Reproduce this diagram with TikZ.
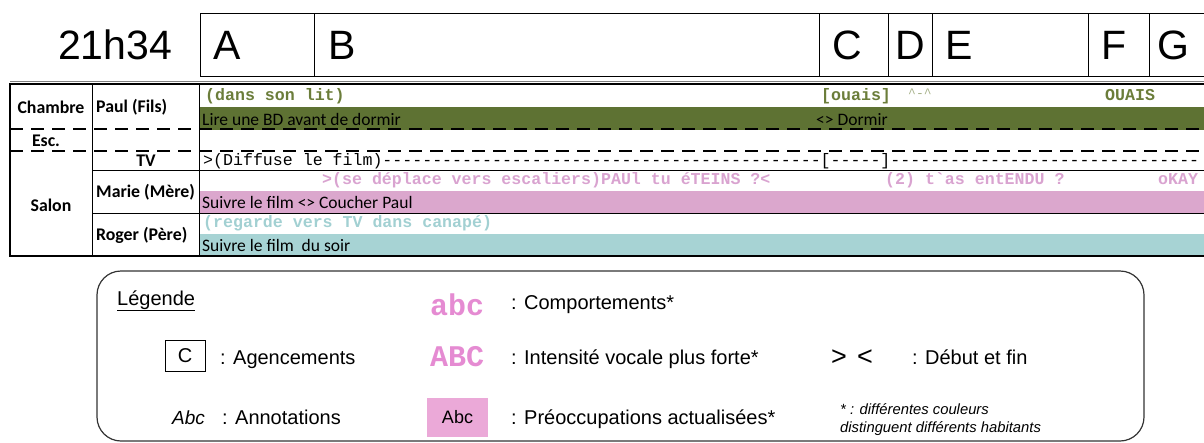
\documentclass[tikz,border=0pt]{standalone}
\usepackage{fontspec}
\setmainfont{Liberation Sans}
\setmonofont{Liberation Mono}
\newfontfamily\calfont{Carlito}
\newcommand\fsz[1]{\fontsize{#1}{#1}\selectfont}
\definecolor{olivetext}{HTML}{6B7D3A}
\definecolor{olivebar}{HTML}{5E7233}
\definecolor{pinktext}{HTML}{D9A3D0}
\definecolor{pinkbar}{HTML}{DBA7CD}
\definecolor{tealtext}{HTML}{A2D0D2}
\definecolor{tealbar}{HTML}{A7D3D4}
\definecolor{legpink}{HTML}{E58BD2}
\definecolor{legbox}{HTML}{EBA9D8}
\definecolor{framegray}{HTML}{333333}
\tikzset{
  hdr/.style={inner sep=0pt, anchor=base west, font=\fsz{41}},
  rowlbl/.style={inner sep=0pt, font=\calfont\bfseries\fsz{17.8}},
  bartxt/.style={inner sep=0pt, anchor=base west, font=\calfont\fsz{17.5}},
  annot/.style={inner sep=0pt, anchor=base west, font=\ttfamily\bfseries\fsz{16.6}},
  tvtxt/.style={inner sep=0pt, anchor=base west, font=\ttfamily\fsz{16.6}},
  leg/.style={inner sep=0pt, anchor=base west, font=\fsz{20}},
  legmono/.style={inner sep=0pt, anchor=base west, font=\ttfamily\bfseries\fsz{30}, text=legpink},
  dashln/.style={line width=2.4pt, dash pattern=on 13pt off 8pt},
  rule/.style={line width=1pt, black},
}
\newcommand\dashrun[1]{\count255=0 \loop\ifnum\count255<#1 -\kern0pt\advance\count255 by 1 \repeat}
\begin{document}
\begin{tikzpicture}[x=1pt,y=-1pt]
\useasboundingbox (0,0) rectangle (1204,442);
% ---------- header ----------
\node[hdr] (time) at (58,59) {21h34};
\draw[line width=1pt] (200,13) rectangle (1215,76);
\foreach \xx in {314,819,888,932,1088,1149} \draw[line width=1pt] (\xx,13) -- (\xx,76);
\node[hdr] (hA) at (213,59) {A};
\node[hdr] (hB) at (328,59) {B};
\node[hdr] (hC) at (832,59) {C};
\node[hdr] (hD) at (895,59) {D};
\node[hdr] (hE) at (945,59) {E};
\node[hdr] (hF) at (1101,59) {F};
\node[hdr] (hG) at (1157,59) {G};
% ---------- table ----------
\fill[olivebar] (199,107) rectangle (1204,130);
\fill[pinkbar] (199,191) rectangle (1204,213);
\fill[tealbar] (199,234) rectangle (1204,256);
\draw[line width=0.8pt, gray] (10,81.2) -- (1204,81.2);
\draw[line width=1.8pt] (10,84) -- (1204,84);
\draw[line width=2.6pt] (10,83) -- (10,257);
\draw[line width=2.2pt] (9,256) -- (1204,256);
\draw[rule] (92,84) -- (92,256);
\draw[rule] (199,84) -- (199,256);
\draw[rule] (92,170) -- (1204,170);
\draw[rule] (92,213) -- (1204,213);
\draw[dashln] (10,129) -- (1204,129);
\draw[dashln] (10,151) -- (1204,151);
% row labels
\node[rowlbl] (chambre) at (51,107) {Chambre};
\node[rowlbl, anchor=west] (paul) at (96,107) {Paul (Fils)};
\node[rowlbl] (esc) at (46,141) {Esc.};
\node[rowlbl] (tv) at (146,161) {TV};
\node[rowlbl, anchor=west] (marie) at (96,192) {Marie (Mère)};
\node[rowlbl, anchor=west] (roger) at (96,235) {Roger (Père)};
\node[rowlbl] (salon) at (51,205) {Salon};
% Paul row
\node[annot, text=olivetext] (p1) at (205,100) {(dans son lit)};
\node[annot, text=olivetext] (p2) at (821,100) {[ouais]};
\node[annot, text=olivetext!60, font=\ttfamily\fsz{13}] (p3) at (908,97) {\textasciicircum-\textasciicircum};
\node[annot, text=olivetext] (p4) at (1105,100) {OUAIS};
\node[bartxt] (pb1) at (202,125) {Lire une BD avant de dormir};
\node[bartxt] (pb2) at (816,125) {<> Dormir};
% TV row
\node[tvtxt] (tvline) at (203,165) {>(Diffuse le film)\dashrun{44}[\dashrun{5}]\dashrun{31}};
% Marie row
\node[annot, text=pinktext] (m1) at (322,184) {>(se déplace vers escaliers)PAUl tu éTEINS ?<};
\node[annot, text=pinktext] (m2) at (885,184) {(2) t`as entENDU ?};
\node[annot, text=pinktext] (m3) at (1158,184) {oKAY};
\node[bartxt] (mb1) at (202,208) {Suivre le film <> Coucher Paul};
% Roger row
\node[annot, text=tealtext] (r1) at (203,227) {(regarde vers TV dans canapé)};
\node[bartxt] (rb1) at (202,251) {Suivre le film\ \ du soir};
% ---------- legend ----------
\draw[line width=1.2pt, framegray, rounded corners=24pt] (97,271) rectangle (1144,441);
\node[leg] (legtitle) at (117,305) {\underline{Légende}};
\node[legmono] (abc) at (430,315) {abc};
\node[leg] (l1) at (511,309) {: Comportements*};
\node[draw, line width=1pt, minimum width=40pt, minimum height=31pt, inner sep=0pt, font=\fsz{20}] (cbox) at (185,356) {C};
\node[leg] (l2) at (220,364) {: Agencements};
\node[legmono] (ABC) at (430,366) {ABC};
\node[leg] (l3) at (511,364) {: Intensité vocale plus forte*};
\node[inner sep=0pt, font=\fsz{27}] (gt) at (839,358) {>};
\node[inner sep=0pt, font=\fsz{27}] (lt) at (865,358) {<};
\node[leg] (l4) at (912,364) {: Début et fin};
\node[leg, font=\itshape\fsz{19}] (abcit) at (172,424) {Abc};
\node[leg] (l5) at (222,424) {: Annotations};
\node[fill=legbox, minimum width=61pt, minimum height=39pt, inner sep=0pt, font=\fsz{18}] (pinkbox) at (457.5,417.5) {Abc};
\node[leg] (l6) at (511,424) {: Préoccupations actualisées*};
\node[inner sep=0pt, anchor=base west, font=\itshape\fsz{14.8}, align=left] (foot) at (840,432) {* : différentes couleurs\\[3pt]distinguent différents habitants};
\end{tikzpicture}
\end{document}
